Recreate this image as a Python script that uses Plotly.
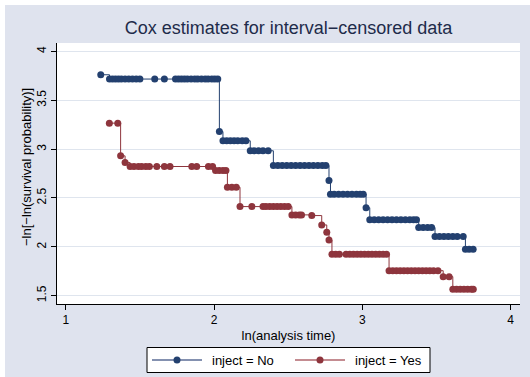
import plotly.graph_objects as go

# inject = No
no_x = [1.236,
        1.295, 1.315, 1.335, 1.355, 1.375, 1.40, 1.425, 1.45, 1.475, 1.50, 1.60, 1.665,
        1.74, 1.76, 1.78, 1.80, 1.82, 1.845, 1.87, 1.89, 1.915, 1.94, 1.96, 1.985, 2.005, 2.025,
        2.036,
        2.06, 2.085, 2.11, 2.135, 2.16, 2.19, 2.215,
        2.244, 2.27, 2.30, 2.33, 2.365,
        2.40, 2.43, 2.46, 2.49, 2.52, 2.55, 2.58, 2.61, 2.64, 2.67, 2.70, 2.73, 2.754,
        2.775,
        2.785, 2.81, 2.84, 2.87, 2.90, 2.93, 2.96, 2.985, 3.006,
        3.025,
        3.05, 3.08, 3.11, 3.14, 3.17, 3.20, 3.23, 3.26, 3.29, 3.32, 3.345, 3.365,
        3.38, 3.41, 3.44, 3.467,
        3.49, 3.52, 3.55, 3.58, 3.61, 3.64, 3.68,
        3.695, 3.72, 3.747]
no_y = [3.761] + [3.717] * 26 + [3.18] + [3.085] * 7 + [2.983] * 5 + [2.832] * 13 + [2.678] \
    + [2.539] * 9 + [2.40] + [2.276] * 12 + [2.197] * 4 + [2.105] * 7 + [1.975] * 3

# inject = Yes
yes_x = [1.294, 1.351,
         1.37,
         1.40,
         1.434, 1.46, 1.49, 1.512, 1.54, 1.564, 1.614, 1.665, 1.703, 1.85, 1.883, 1.962, 1.99,
         2.01, 2.035, 2.06, 2.08,
         2.09, 2.12, 2.15,
         2.175, 2.255, 2.33, 2.35, 2.375, 2.40, 2.425, 2.45, 2.475, 2.50,
         2.525, 2.55, 2.575, 2.59, 2.659,
         2.726, 2.76, 2.775,
         2.795, 2.82, 2.845, 2.89, 2.915, 2.94, 2.965, 2.99, 3.015, 3.04, 3.065, 3.09, 3.115, 3.14, 3.163,
         3.18, 3.205, 3.23, 3.255, 3.28, 3.305, 3.33, 3.355, 3.38, 3.405, 3.43, 3.455, 3.48, 3.51,
         3.545, 3.585,
         3.61, 3.635, 3.66, 3.685, 3.71, 3.735, 3.748]
yes_y = [3.266] * 2 + [2.931] + [2.862] + [2.822] * 13 + [2.78] * 4 + [2.61] * 3 + [2.412] * 10 \
    + [2.327] * 4 + [2.32] + [2.224, 2.15, 2.07] + [1.924] * 15 + [1.756] * 14 + [1.695] * 2 + [1.566] * 7

series_names = ["inject = No", "inject = Yes"]
x_ticks = [1, 2, 3, 4]
y_ticks = [1.5, 2, 2.5, 3, 3.5, 4]
y_tick_labels = ["1.5", "2", "2.5", "3", "3.5", "4"]

BLUE = "#23406f"
RED = "#8e353d"
BLUE_LINE = "#5b6d96"
RED_LINE = "#b0666c"
BG = "#dfe3ee"
FONT = "Liberation Sans, Arial, sans-serif"

fig = go.Figure()
fig.add_trace(go.Scatter(x=no_x, y=no_y, mode="lines+markers", name=series_names[0],
                         line=dict(color=BLUE, width=1, shape="hv"),
                         marker=dict(color=BLUE, size=7)))
fig.add_trace(go.Scatter(x=yes_x, y=yes_y, mode="lines+markers", name=series_names[1],
                         line=dict(color=RED, width=1, shape="hv"),
                         marker=dict(color=RED, size=7)))

L, R, T, B = 57, 10, 43, 73
W, H = 530, 377
pw, ph = W - L - R, H - T - B


def px(xp):
    return (xp - L) / pw


def py(yp):
    return (T + ph - yp) / ph


shapes = [
    # white frame strips (top and left)
    dict(type="rect", xref="paper", yref="paper", x0=px(-2), x1=px(W + 2), y0=py(5), y1=py(-2),
         fillcolor="white", line=dict(width=0), layer="above"),
    dict(type="rect", xref="paper", yref="paper", x0=px(-2), x1=px(5), y0=py(H + 2), y1=py(-2),
         fillcolor="white", line=dict(width=0), layer="above"),
    # legend box
    dict(type="rect", xref="paper", yref="paper", x0=px(147), x1=px(430), y0=py(372.5), y1=py(347.5),
         fillcolor="white", line=dict(color="black", width=1), layer="above"),
]
annotations = [
    dict(text="\u2212ln[\u2212ln(survival probability)]", xref="paper", yref="paper", x=px(26),
         y=py(167), xanchor="center", yanchor="middle", textangle=-90, showarrow=False,
         font=dict(size=13, color="black", family=FONT)),
]
leg_y = 360
for (lx0, mx, tx, lc, mc, name) in [(152, 177, 210, BLUE_LINE, BLUE, series_names[0]),
                                    (295, 320, 352.5, RED_LINE, RED, series_names[1])]:
    shapes.append(dict(type="line", xref="paper", yref="paper", x0=px(lx0), x1=px(lx0 + 50),
                       y0=py(leg_y), y1=py(leg_y), line=dict(color=lc, width=1.5), layer="above"))
    shapes.append(dict(type="circle", xref="paper", yref="paper", x0=px(mx - 3.5), x1=px(mx + 3.5),
                       y0=py(leg_y + 3.5), y1=py(leg_y - 3.5), fillcolor=mc, line=dict(width=0),
                       layer="above"))
    annotations.append(dict(text=name, xref="paper", yref="paper", x=px(tx), y=py(leg_y),
                            xanchor="left", yanchor="middle", showarrow=False,
                            font=dict(size=13, color="black", family=FONT)))

fig.update_layout(
    width=W, height=H,
    margin=dict(l=L, r=R, t=T, b=B),
    paper_bgcolor=BG,
    plot_bgcolor="white",
    font=dict(family=FONT, color="black", size=12),
    title=dict(text="Cox estimates for interval\u2212censored data", x=(L + pw / 2) / W, xanchor="center",
               y=1 - 28 / H, yanchor="middle", font=dict(size=18, color="#1e2b4a")),
    showlegend=False,
    shapes=shapes,
    annotations=annotations,
)
fig.update_xaxes(range=[0.941, 4.063], tickvals=x_ticks, ticks="outside", ticklen=5, tickcolor="black",
                 showline=True, linecolor="black", linewidth=1, showgrid=False, zeroline=False,
                 automargin=False,
                 title=dict(text="ln(analysis time)", font=dict(size=13), standoff=4),
                 tickfont=dict(size=12))
fig.update_yaxes(range=[1.415, 4.086], tickvals=y_ticks, ticktext=y_tick_labels, ticks="outside", ticklen=5,
                 tickcolor="black", tickangle=-90, showline=True, linecolor="black", linewidth=1,
                 showgrid=True, gridcolor="#dfe5ee", gridwidth=1, zeroline=False, automargin=False,
                 tickfont=dict(size=12))

fig.write_html("out.html", config={"displayModeBar": False},
               post_script="document.body.style.margin='0';document.body.style.padding='0';")
